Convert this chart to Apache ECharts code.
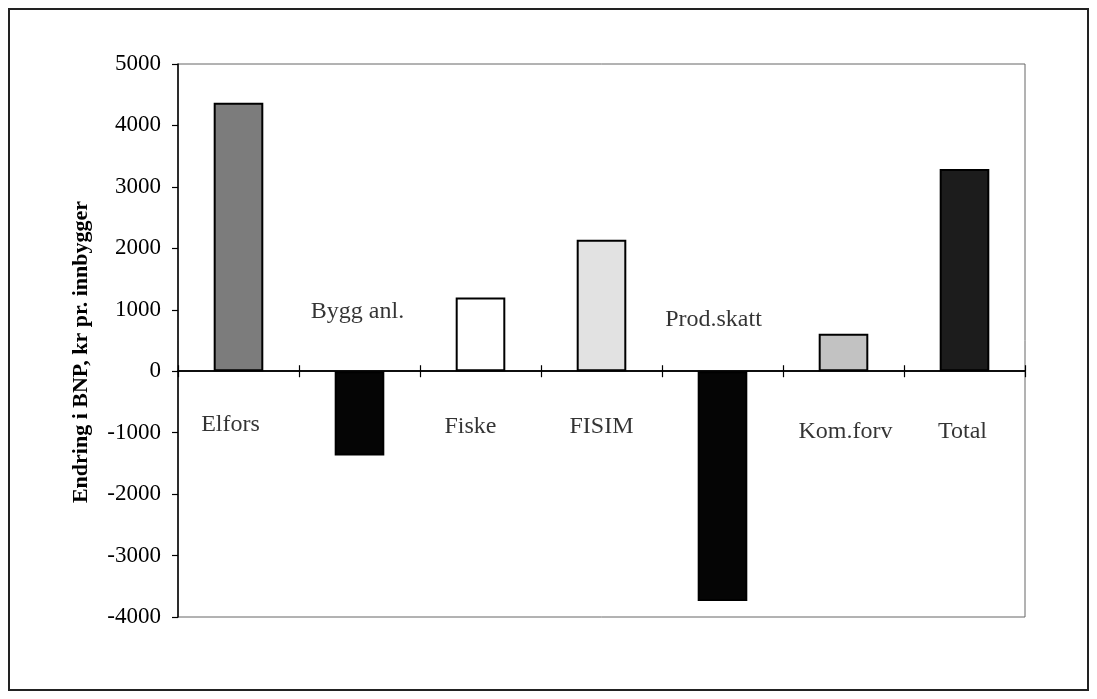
<!DOCTYPE html>
<html>
<head>
<meta charset="utf-8">
<script src="https://cdn.jsdelivr.net/npm/echarts@6/dist/echarts.min.js"></script>
<style>
  html, body { margin: 0; padding: 0; background: #fff; }
  #chart { width: 1097px; height: 699px; }
</style>
</head>
<body>
<div id="chart"></div>
<script>
// kategorier og verdier (kr pr. innbygger)
var categories = ['Elfors', 'Bygg anl.', 'Fiske', 'FISIM', 'Prod.skatt', 'Kom.forv', 'Total'];
var values = [4370, -1370, 1200, 2140, -3740, 610, 3290];
var yTicks = [-4000, -3000, -2000, -1000, 0, 1000, 2000, 3000, 4000, 5000];

// fyllfarger for hver stolpe
var barColors = ['#7c7c7c', '#050505', '#ffffff', '#e2e2e2', '#050505', '#c2c2c2', '#1c1c1c'];
// plassering av kategoritekst i forhold til nullinjen (px)
var labelOffsets = [[-8, 53], [-2, -60], [-10, 55], [0, 55], [-9, -52], [2, 60], [-2, 60]];

var serif = '"Liberation Serif", "DejaVu Serif", serif';

var chart = echarts.init(document.getElementById('chart'));

function catAxis(pos, yIndex) {
  return {
    type: 'category',
    data: categories,
    position: pos,
    axisLine: {onZero: true, onZeroAxisIndex: yIndex, lineStyle: {color: '#000', width: 1.5}},
    axisTick: {show: true, interval: 0, length: 6, lineStyle: {color: '#000', width: 1.2}},
    axisLabel: {show: false},
    splitLine: {show: false}
  };
}

var option = {
  backgroundColor: '#fff',
  animation: false,
  grid: {
    left: 178, right: 72, top: 64, bottom: 82,
    show: true, borderColor: '#666', borderWidth: 1
  },
  // to x-akser på null gir kryssende tikkmerker
  xAxis: [catAxis('bottom', 0), catAxis('top', 1)],
  yAxis: [
    {
      type: 'value',
      min: yTicks[0],
      max: yTicks[yTicks.length - 1],
      interval: 1000,
      axisLine: {show: true, lineStyle: {color: '#000', width: 1.5}},
      axisTick: {show: true, length: 6, lineStyle: {color: '#000', width: 1.2}},
      axisLabel: {
        color: '#000', fontFamily: serif, fontSize: 23, margin: 17,
        formatter: function (v) { return String(v); }
      },
      splitLine: {show: false}
    },
    {
      type: 'value',
      min: yTicks[0],
      max: yTicks[yTicks.length - 1],
      interval: 1000,
      axisLine: {show: false},
      axisTick: {show: false},
      axisLabel: {show: false},
      splitLine: {show: false}
    }
  ],
  series: [
    {
      type: 'bar',
      xAxisIndex: 0,
      yAxisIndex: 0,
      barWidth: '41%',
      data: values.map(function (v, i) {
        return {
          value: v,
          itemStyle: {color: barColors[i], borderColor: '#000', borderWidth: 2}
        };
      })
    },
    {
      // kategoritekst plassert fritt rundt nullinjen
      type: 'scatter',
      xAxisIndex: 0,
      yAxisIndex: 0,
      symbolSize: 0,
      silent: true,
      data: categories.map(function (c, i) {
        return {
          value: [c, 0],
          label: {offset: labelOffsets[i]}
        };
      }),
      label: {
        show: true,
        position: 'inside',
        formatter: function (p) { return categories[p.dataIndex]; },
        color: '#000',
        textBorderWidth: 0,
        fontFamily: serif,
        fontSize: 24
      }
    }
  ],
  graphic: [
    {
      type: 'rect',
      shape: {x: 9, y: 9, width: 1079, height: 681},
      style: {fill: null, stroke: '#222', lineWidth: 2},
      silent: true
    },
    {
      type: 'text',
      x: 81,
      y: 352,
      rotation: Math.PI / 2,
      style: {
        text: 'Endring i BNP, kr pr. innbygger',
        font: 'bold 22px ' + serif,
        fill: '#000',
        textAlign: 'center',
        textVerticalAlign: 'middle'
      }
    }
  ]
};

chart.setOption(option);
</script>
</body>
</html>
